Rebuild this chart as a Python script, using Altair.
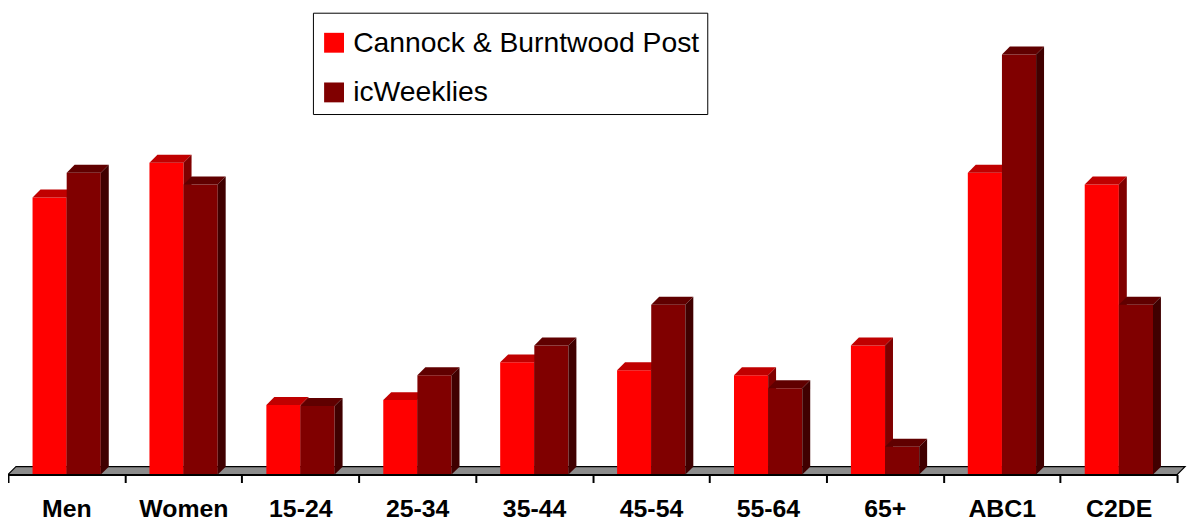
import json
import altair as alt
import pandas as pd

# ---- data ----
categories = ["Men", "Women", "15-24", "25-34", "35-44", "45-54", "55-64", "65+", "ABC1", "C2DE"]
cannock = [279, 314, 70, 75, 113, 105, 100, 130, 304, 292]
icweeklies = [304, 292, 69, 100, 130, 171, 87, 28, 423, 171]
series_names = ["Cannock & Burntwood Post", "icWeeklies"]

# ---- styles ----
front_colors = ["#FF0000", "#800000"]
top_colors = ["#C00000", "#600000"]
side_colors = ["#800000", "#400000"]
FONT = "Liberation Sans"
W, H = 1177, 468
N = len(categories)
BAR_W = 0.292
START = 0.21
DX = 8 * N / W      # depth offset in x units (8px)
DY = 8.0            # depth offset in y units (8px)
Y_MAX = 468

x_scale = alt.Scale(domain=[0, N], nice=False, zero=False)
y_scale = alt.Scale(domain=[0, Y_MAX], nice=False)
x_axis = alt.Axis(
    values=list(range(N + 1)),
    labelExpr=f"{json.dumps(categories)}[datum.value] || ''",
    labelOffset=W / N / 2,
    title=None, grid=False, zindex=1,
    domainColor="black", domainWidth=2,
    tickColor="black", tickWidth=2, tickSize=8,
    labelFont=FONT, labelFontSize=25, labelFontWeight="bold", labelColor="black",
    labelPadding=14, labelOverlap=False, labelFlush=False, labelBound=False,
)


def bar_tables(values, s_idx):
    front, top, side = [], [], []
    for i, v in enumerate(values):
        x0 = i + START + s_idx * BAR_W
        x1 = x0 + BAR_W
        bid = f"{s_idx}-{i}"
        front.append({"id": bid, "series": series_names[s_idx], "x0": x0, "x1": x1, "base": 0, "v": v})
        top.append({"id": bid, "y": v, "xa": x0, "xb": x1})
        top.append({"id": bid, "y": v + DY, "xa": x0 + DX, "xb": x1 + DX})
        side.append({"id": bid, "x": x1, "ya": 0, "yb": v})
        side.append({"id": bid, "x": x1 + DX, "ya": DY, "yb": v + DY})
    return pd.DataFrame(front), pd.DataFrame(top), pd.DataFrame(side)


legend = alt.Legend(
    title=" ", titleFontSize=9, titlePadding=0,
    orient="none", legendX=307, legendY=3, direction="vertical",
    symbolType="square", symbolSize=400, symbolStrokeWidth=0,
    labelFont=FONT, labelFontSize=28.5, labelColor="black", labelLimit=0,
    labelOffset=5, rowPadding=21, padding=7,
    strokeColor="black", fillColor="white",
)

layers = []

# floor
floor_df = pd.DataFrame([
    {"y": 0, "xa": 0, "xb": N},
    {"y": DY, "xa": DX, "xb": N + DX},
])
layers.append(
    alt.Chart(floor_df).mark_area(orient="horizontal", color="#8C8C8C", stroke="black", strokeWidth=1.2).encode(
        y=alt.Y("y:Q", scale=y_scale, axis=None),
        x=alt.X("xa:Q", scale=x_scale, axis=x_axis),
        x2="xb:Q",
    )
)

for s_idx, values in enumerate([cannock, icweeklies]):
    f_df, t_df, s_df = bar_tables(values, s_idx)
    layers.append(
        alt.Chart(f_df).mark_rect().encode(
            x=alt.X("x0:Q", scale=x_scale, axis=x_axis),
            x2="x1:Q",
            y=alt.Y("base:Q", scale=y_scale, axis=None),
            y2="v:Q",
            color=alt.Color("series:N", scale=alt.Scale(domain=series_names, range=front_colors), legend=legend),
        )
    )
    layers.append(
        alt.Chart(t_df).mark_area(orient="horizontal", color=top_colors[s_idx]).encode(
            y=alt.Y("y:Q", scale=y_scale, axis=None),
            x=alt.X("xa:Q", scale=x_scale, axis=x_axis),
            x2="xb:Q",
            detail="id:N",
        )
    )
    layers.append(
        alt.Chart(s_df).mark_area(orient="vertical", color=side_colors[s_idx]).encode(
            x=alt.X("x:Q", scale=x_scale, axis=x_axis),
            y=alt.Y("ya:Q", scale=y_scale, axis=None),
            y2="yb:Q",
            detail="id:N",
        )
    )

chart = alt.layer(*layers).properties(
    width=W, height=H,
    autosize=alt.AutoSizeParams(type="none"),
    padding={"left": 0, "top": 0, "right": 12, "bottom": 46},
    background="white",
).configure_view(stroke=None)

chart.save("out.html", embed_options={"renderer": "svg", "actions": False})
